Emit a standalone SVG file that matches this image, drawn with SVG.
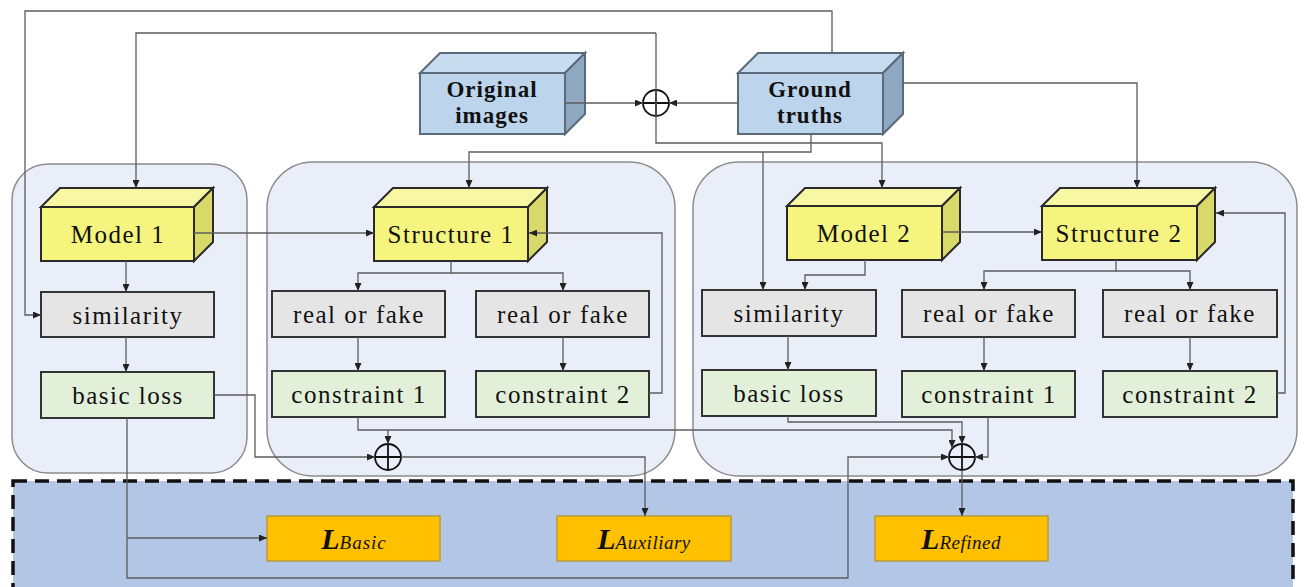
<svg xmlns="http://www.w3.org/2000/svg" width="1304" height="587" viewBox="0 0 1304 587">
<style>
.panel{fill:#e9eef8;stroke:#8c8c8c;stroke-width:1.5}
.yf{fill:#f4f47e;stroke:#2a2a2a;stroke-width:2}
.yt{fill:#f8f8a4;stroke:#2a2a2a;stroke-width:2}
.ys{fill:#d9d96a;stroke:#2a2a2a;stroke-width:2}
.bf{fill:#bcd5ec;stroke:#5a6a7a;stroke-width:2}
.bt{fill:#c8dcf0;stroke:#5a6a7a;stroke-width:2}
.bs{fill:#8ea8c2;stroke:#5a6a7a;stroke-width:2}
.gray{fill:#e6e5e5;stroke:#333;stroke-width:2}
.green{fill:#e2efd9;stroke:#333;stroke-width:2}
.orange{fill:#ffc000;stroke:#b89a3a;stroke-width:1.5}
.t{font-family:"Liberation Serif",serif;font-size:25px;letter-spacing:1.5px;fill:#111;text-anchor:middle}
.tb{font-family:"Liberation Serif",serif;font-size:23px;font-weight:bold;letter-spacing:1px;fill:#111;text-anchor:middle}
.tl{font-family:"Liberation Serif",serif;font-style:italic;fill:#111;text-anchor:middle}
.c{fill:none;stroke:#5c5c5c;stroke-width:1.3}
.sum{fill:none;stroke:#111;stroke-width:1.8}
</style>
<defs>
<marker id="ah" viewBox="0 0 8 7" refX="8" refY="3.5" markerWidth="8" markerHeight="7" markerUnits="userSpaceOnUse" orient="auto">
<path d="M0,0 L8,3.5 L0,7 z" fill="#222"/>
</marker>
</defs>

<g id="panels">
<rect class="panel" x="12" y="164" width="235" height="309" rx="36"/>
<rect class="panel" x="267" y="162" width="408" height="314" rx="46"/>
<rect class="panel" x="693" y="162" width="604" height="314" rx="46"/>
<rect x="13" y="481" width="1280" height="120" fill="#b3c6e6" stroke="#111" stroke-width="3.5" stroke-dasharray="14,8"/>
</g>

<g id="original-images">
<polygon class="bt" points="420,73 440,53 585,53 565,73"/>
<polygon class="bs" points="565,73 585,53 585,114 565,134"/>
<rect class="bf" x="420" y="73" width="145" height="61"/>
<text class="tb" x="492" y="97">Original</text>
<text class="tb" x="492" y="123">images</text>
</g>

<g id="ground-truths">
<polygon class="bt" points="738,73 758,53 903,53 883,73"/>
<polygon class="bs" points="883,73 903,53 903,114 883,134"/>
<rect class="bf" x="738" y="73" width="145" height="61"/>
<text class="tb" x="810" y="97">Ground</text>
<text class="tb" x="810" y="123">truths</text>
</g>

<g id="model-1">
<polygon class="yt" points="41,207 60,188 213,188 194,207"/>
<polygon class="ys" points="194,207 213,188 213,242 194,261"/>
<rect class="yf" x="41" y="207" width="153" height="54"/>
<text class="t" x="118" y="243">Model 1</text>
</g>

<g id="structure-1">
<polygon class="yt" points="374,207 393,188 547,188 528,207"/>
<polygon class="ys" points="528,207 547,188 547,242 528,261"/>
<rect class="yf" x="374" y="207" width="154" height="54"/>
<text class="t" x="451" y="243">Structure 1</text>
</g>

<g id="model-2">
<polygon class="yt" points="787,206 805,188 960,188 942,206"/>
<polygon class="ys" points="942,206 960,188 960,242 942,260"/>
<rect class="yf" x="787" y="206" width="155" height="54"/>
<text class="t" x="864" y="242">Model 2</text>
</g>

<g id="structure-2">
<polygon class="yt" points="1042,206 1060,188 1215,188 1197,206"/>
<polygon class="ys" points="1197,206 1215,188 1215,242 1197,260"/>
<rect class="yf" x="1042" y="206" width="155" height="54"/>
<text class="t" x="1119" y="242">Structure 2</text>
</g>

<g id="similarity-1"><rect class="gray" x="41" y="292" width="173" height="45"/><text class="t" x="128" y="324">similarity</text></g>
<g id="basic-loss-1"><rect class="green" x="41" y="372" width="173" height="46"/><text class="t" x="128" y="404">basic loss</text></g>
<g id="real-fake-1a"><rect class="gray" x="272" y="291" width="173" height="46"/><text class="t" x="359" y="323">real or fake</text></g>
<g id="constraint-1a"><rect class="green" x="272" y="371" width="173" height="46"/><text class="t" x="359" y="403">constraint 1</text></g>
<g id="real-fake-1b"><rect class="gray" x="476" y="291" width="173" height="46"/><text class="t" x="563" y="323">real or fake</text></g>
<g id="constraint-1b"><rect class="green" x="476" y="371" width="173" height="46"/><text class="t" x="563" y="403">constraint 2</text></g>
<g id="similarity-2"><rect class="gray" x="702" y="290" width="174" height="46"/><text class="t" x="789" y="322">similarity</text></g>
<g id="basic-loss-2"><rect class="green" x="702" y="370" width="174" height="46"/><text class="t" x="789" y="402">basic loss</text></g>
<g id="real-fake-2a"><rect class="gray" x="902" y="290" width="173" height="47"/><text class="t" x="989" y="322">real or fake</text></g>
<g id="constraint-2a"><rect class="green" x="902" y="371" width="173" height="46"/><text class="t" x="989" y="403">constraint 1</text></g>
<g id="real-fake-2b"><rect class="gray" x="1103" y="290" width="174" height="47"/><text class="t" x="1190" y="322">real or fake</text></g>
<g id="constraint-2b"><rect class="green" x="1103" y="371" width="174" height="46"/><text class="t" x="1190" y="403">constraint 2</text></g>

<g id="l-basic"><rect class="orange" x="267" y="516" width="173" height="45"/><text class="tl" x="354" y="549"><tspan font-size="30" font-weight="bold">L</tspan><tspan font-size="19" letter-spacing="1">Basic</tspan></text></g>
<g id="l-auxiliary"><rect class="orange" x="557" y="516" width="174" height="45"/><text class="tl" x="644" y="549"><tspan font-size="30" font-weight="bold">L</tspan><tspan font-size="19" letter-spacing="0.5">Auxiliary</tspan></text></g>
<g id="l-refined"><rect class="orange" x="875" y="516" width="173" height="45"/><text class="tl" x="961" y="549"><tspan font-size="30" font-weight="bold">L</tspan><tspan font-size="19" letter-spacing="0.5">Refined</tspan></text></g>

<g id="sum-top"><circle class="sum" cx="656" cy="103" r="13"/><path class="sum" d="M643,103 H669 M656,90 V116"/></g>
<g id="sum-mid"><circle class="sum" cx="388" cy="457" r="13"/><path class="sum" d="M375,457 H401 M388,444 V470"/></g>
<g id="sum-right"><circle class="sum" cx="962" cy="457" r="13"/><path class="sum" d="M949,457 H975 M962,444 V470"/></g>

<g id="connectors">
<path class="c" marker-end="url(#ah)" d="M832,53 V11 H25 V315 H41"/>
<path class="c" marker-end="url(#ah)" d="M656,33 H136 V188"/>
<path class="c" marker-end="url(#ah)" d="M656,33 V143 H882 V188"/>
<path class="c" marker-end="url(#ah)" d="M565,103 H643"/>
<path class="c" marker-end="url(#ah)" d="M738,103 H669"/>
<path class="c" marker-end="url(#ah)" d="M903,83 H1137 V188"/>
<path class="c" marker-end="url(#ah)" d="M811,134 V152 H469 V188"/>
<path class="c" marker-end="url(#ah)" d="M763,152 V290"/>
<path class="c" marker-end="url(#ah)" d="M194,233 H374"/>
<path class="c" marker-end="url(#ah)" d="M126,261 V292"/>
<path class="c" marker-end="url(#ah)" d="M126,337 V372"/>
<path class="c" marker-end="url(#ah)" d="M451,261 V273 H358 V291"/>
<path class="c" marker-end="url(#ah)" d="M451,273 H563 V291"/>
<path class="c" marker-end="url(#ah)" d="M358,337 V371"/>
<path class="c" marker-end="url(#ah)" d="M563,337 V371"/>
<path class="c" marker-end="url(#ah)" d="M649,393 H662 V233 H529"/>
<path class="c" marker-end="url(#ah)" d="M214,395 H255 V457 H375"/>
<path class="c" marker-end="url(#ah)" d="M127,418 V578 H848 V457 H949"/>
<path class="c" marker-end="url(#ah)" d="M127,538 H267"/>
<path class="c" marker-end="url(#ah)" d="M358,417 V430 H952 V448"/>
<path class="c" marker-end="url(#ah)" d="M388,430 V444"/>
<path class="c" marker-end="url(#ah)" d="M401,457 H645 V516"/>
<path class="c" marker-end="url(#ah)" d="M865,260 V275 H805 V290"/>
<path class="c" marker-end="url(#ah)" d="M788,336 V370"/>
<path class="c" marker-end="url(#ah)" d="M788,416 V422 H962 V444"/>
<path class="c" marker-end="url(#ah)" d="M942,232 H1042"/>
<path class="c" marker-end="url(#ah)" d="M1116,260 V271 H984 V290"/>
<path class="c" marker-end="url(#ah)" d="M1116,271 H1190 V290"/>
<path class="c" marker-end="url(#ah)" d="M984,337 V371"/>
<path class="c" marker-end="url(#ah)" d="M1190,337 V371"/>
<path class="c" marker-end="url(#ah)" d="M1277,393 H1285 V213 H1216"/>
<path class="c" marker-end="url(#ah)" d="M988,417 V457 H975"/>
<path class="c" marker-end="url(#ah)" d="M962,470 V516"/>
</g>
</svg>
